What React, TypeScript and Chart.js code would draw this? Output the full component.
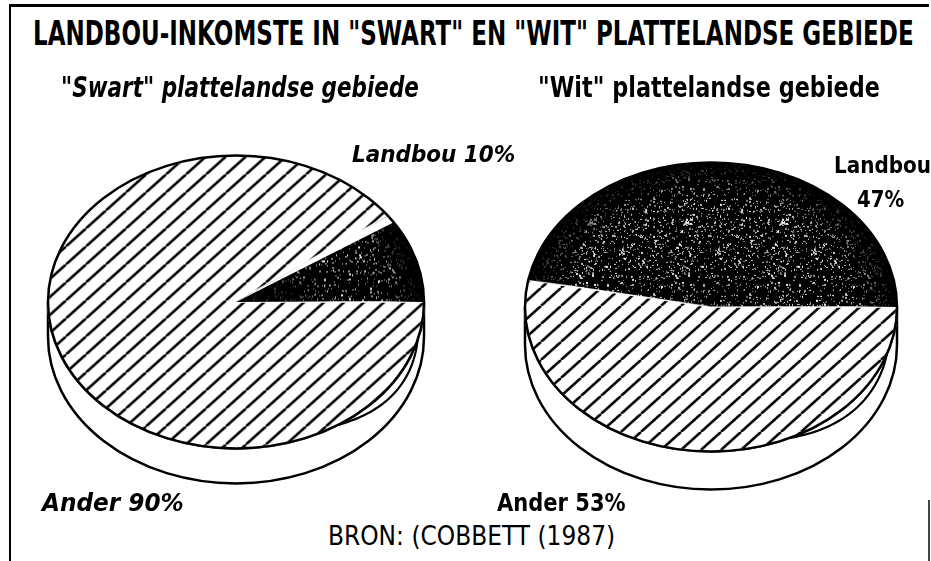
import React, { useEffect, useRef } from "react";
import { Chart, registerables } from "chart.js";

Chart.register(...registerables);

// ---------- data ----------
const SLICE_LABELS = ["Landbou", "Ander"];
const SWART_VALUES = [10, 90];
const WIT_VALUES = [47, 53];

const TITLE = 'LANDBOU-INKOMSTE IN "SWART" EN "WIT" PLATTELANDSE GEBIEDE';
const SUB_SWART = '"Swart" plattelandse gebiede';
const SUB_WIT = '"Wit" plattelandse gebiede';
const SOURCE = "BRON: (COBBETT (1987)";

const FAMILY = '"DejaVu Sans", sans-serif';

// ---------- textures ----------
function makeHatch(ctx: CanvasRenderingContext2D, k: number) {
  const w = 20, h = 18;
  const c = document.createElement("canvas");
  c.width = w;
  c.height = h;
  const g = c.getContext("2d")!;
  g.fillStyle = "#fff";
  g.fillRect(0, 0, w, h);
  g.strokeStyle = "#000";
  g.lineWidth = 2.6;
  for (const ox of [-w, 0, w]) {
    g.beginPath();
    g.moveTo(ox, h);
    g.lineTo(ox + w, 0);
    g.stroke();
  }
  const p = ctx.createPattern(c, "repeat")!;
  p.setTransform(new DOMMatrix().scale(1, 1 / k));
  return p;
}

function makeSpeckle(ctx: CanvasRenderingContext2D, k: number, dots: number) {
  const s = 96;
  const c = document.createElement("canvas");
  c.width = s;
  c.height = s;
  const g = c.getContext("2d")!;
  g.fillStyle = "#000";
  g.fillRect(0, 0, s, s);
  let seed = 12345;
  const rnd = () => {
    seed = (seed * 1103515245 + 12345) & 0x7fffffff;
    return seed / 0x7fffffff;
  };
  for (let i = 0; i < dots; i++) {
    const x = Math.floor(rnd() * s);
    const y = Math.floor(rnd() * s);
    const a = 0.45 + rnd() * 0.55;
    g.fillStyle = `rgba(255,255,255,${a.toFixed(2)})`;
    g.fillRect(x, y, rnd() < 0.4 ? 2 : 1, rnd() < 0.3 ? 2 : 1);
  }
  const p = ctx.createPattern(c, "repeat")!;
  p.setTransform(new DOMMatrix().scale(1, 1 / k));
  return p;
}

// ---------- 3D tilt plugin ----------
const tiltPlugin = {
  id: "tilt3d",
  beforeDatasetsDraw(chart: any, _args: any, opts: any) {
    const arc = chart.getDatasetMeta(0).data[0];
    if (!arc) return;
    const ctx = chart.ctx as CanvasRenderingContext2D;
    const cx = arc.x, cy = arc.y, r = arc.outerRadius;
    const k = opts.k, d = opts.depth, ry = r * k;
    ctx.save();
    ctx.beginPath();
    ctx.moveTo(cx + r, cy);
    ctx.lineTo(cx + r, cy + d);
    ctx.ellipse(cx, cy + d, r, ry, 0, 0, Math.PI, false);
    ctx.lineTo(cx - r, cy);
    ctx.ellipse(cx, cy, r, ry, 0, Math.PI, 0, true);
    ctx.closePath();
    ctx.fillStyle = "#fff";
    ctx.fill();
    ctx.lineWidth = 2.5;
    ctx.strokeStyle = "#000";
    ctx.lineJoin = "round";
    ctx.stroke();
    ctx.restore();
    ctx.save();
    ctx.translate(cx, cy);
    ctx.scale(1, k);
    ctx.translate(-cx, -cy);
  },
  afterDatasetsDraw(chart: any, _args: any, opts: any) {
    const arc = chart.getDatasetMeta(0).data[0];
    if (!arc) return;
    const ctx = chart.ctx as CanvasRenderingContext2D;
    const cx = arc.x, cy = arc.y, r = arc.outerRadius;
    // darken the stippled slice toward its rim (still in tilted space)
    ctx.save();
    ctx.beginPath();
    ctx.moveTo(cx, cy);
    ctx.arc(cx, cy, r, arc.startAngle, arc.endAngle);
    ctx.closePath();
    ctx.clip();
    const grad = ctx.createRadialGradient(cx, cy, 0, cx, cy, r);
    for (const [pos, a] of opts.shade) grad.addColorStop(pos, `rgba(0,0,0,${a})`);
    ctx.fillStyle = grad;
    ctx.fillRect(cx - r, cy - r, 2 * r, 2 * r);
    ctx.restore();
    // white gap along the leading edge of the stippled slice
    if (opts.gap > 0) {
      ctx.save();
      ctx.beginPath();
      ctx.moveTo(cx, cy);
      ctx.arc(cx, cy, r - 1, arc.startAngle, arc.startAngle + (opts.gap * Math.PI) / 180);
      ctx.closePath();
      ctx.fillStyle = "#fff";
      ctx.fill();
      ctx.restore();
    }

    ctx.restore(); // end tilt
    const ry = r * opts.k;
    ctx.save();
    ctx.lineWidth = 2.5;
    ctx.strokeStyle = "#000";
    ctx.beginPath();
    ctx.ellipse(cx, cy, r, ry, 0, 0, Math.PI * 2);
    ctx.stroke();
    // secondary (double-drawn) rim line at the lower right
    const [a0, a1] = opts.lens.map((v: number) => (v * Math.PI) / 180);
    ctx.beginPath();
    const n = 40;
    for (let i = 0; i <= n; i++) {
      const t = a0 + ((a1 - a0) * i) / n;
      const px = cx + r * Math.cos(t);
      const py = cy + ry * Math.sin(t);
      const nx = ry * Math.cos(t), ny = r * Math.sin(t);
      const nl = Math.hypot(nx, ny);
      const b = opts.bulge * Math.sin((Math.PI * i) / n);
      const qx = px + (nx / nl) * b, qy = py + (ny / nl) * b;
      if (i === 0) ctx.moveTo(qx, qy);
      else ctx.lineTo(qx, qy);
    }
    ctx.lineWidth = 2.2;
    ctx.stroke();
    ctx.restore();
  },
};

type PieProps = {
  values: number[];
  cx: number;
  cy: number;
  radius: number;
  k: number;
  depth: number;
  dots: number;
  shade: number[][];
  lens: number[];
  gap: number;
};

const CANVAS = 420;

function TiltedPie({ values, cx, cy, radius, k, depth, dots, shade, lens, gap }: PieProps) {
  const ref = useRef<HTMLCanvasElement | null>(null);
  useEffect(() => {
    const canvas = ref.current!;
    const ctx = canvas.getContext("2d")!;
    const hatch = makeHatch(ctx, k);
    const speckle = makeSpeckle(ctx, k, dots);
    const chart = new Chart(canvas, {
      type: "pie",
      data: {
        labels: SLICE_LABELS,
        datasets: [
          {
            data: values,
            backgroundColor: [speckle, hatch] as any,
            borderWidth: [0, 2],
            borderColor: "#fff",
            radius: radius,
          } as any,
        ],
      },
      options: {
        responsive: false,
        animation: false,
        events: [],
        rotation: 90 - (values[0] / 100) * 360,
        radius: radius,
        layout: { padding: 0 },
        plugins: {
          legend: { display: false },
          tooltip: { enabled: false },
          title: { display: false },
          tilt3d: { k, depth, shade, lens, bulge: 8, gap },
        } as any,
      } as any,
      plugins: [tiltPlugin as any],
    });
    return () => chart.destroy();
  }, []);
  return (
    <canvas
      ref={ref}
      width={CANVAS}
      height={CANVAS}
      style={{
        position: "absolute",
        left: cx - CANVAS / 2,
        top: cy - CANVAS / 2,
        width: CANVAS,
        height: CANVAS,
      }}
    />
  );
}

// ---------- fitted text ----------
const measureCanvas = document.createElement("canvas");
const mctx = measureCanvas.getContext("2d")!;

type LabelProps = {
  text: string;
  x: number;
  w: number;
  top: number;
  base: number;
  weight?: string;
  italic?: boolean;
};

function Label({ text, x, w, top, base, weight = "bold", italic = false }: LabelProps) {
  const style = italic ? "italic" : "normal";
  mctx.font = `${style} ${weight} 100px ${FAMILY}`;
  const capRatio = mctx.measureText("H").actualBoundingBoxAscent / 100;
  const size = (base - top) / capRatio;
  mctx.font = `${style} ${weight} ${size}px ${FAMILY}`;
  const m = mctx.measureText(text);
  const inkW = m.actualBoundingBoxLeft + m.actualBoundingBoxRight;
  const sx = w / inkW;
  const asc = m.fontBoundingBoxAscent;
  const desc = m.fontBoundingBoxDescent;
  const baseOff = size / 2 + (asc - desc) / 2;
  return (
    <div
      style={{
        position: "absolute",
        left: x + m.actualBoundingBoxLeft * sx,
        top: base - baseOff,
        fontFamily: FAMILY,
        fontSize: size,
        lineHeight: `${size}px`,
        fontWeight: weight as any,
        fontStyle: style,
        whiteSpace: "nowrap",
        color: "#000",
        transform: `scaleX(${sx})`,
        transformOrigin: "0 0",
        zIndex: 2,
      }}
    >
      {text}
    </div>
  );
}

export default function App() {
  return (
    <div
      style={{
        position: "absolute",
        left: 0,
        top: 0,
        width: 931,
        height: 561,
        overflow: "hidden",
        background: "#fff",
      }}
    >
      {/* frame */}
      <div style={{ position: "absolute", left: 9, top: 4, width: 920, height: 3, background: "#000" }} />
      <div style={{ position: "absolute", left: 9, top: 4, width: 2, height: 557, background: "#000" }} />
      <div style={{ position: "absolute", left: 928, top: 500, width: 1.5, height: 61, background: "#444" }} />

      <TiltedPie
        values={SWART_VALUES}
        cx={236}
        cy={302}
        radius={188}
        k={0.779}
        depth={35}
        dots={560}
        shade={[[0, 0.95], [0.3, 0.6], [0.55, 0.05], [0.8, 0.05], [0.93, 0.75], [1, 1]]}
        lens={[15, 57]}
        gap={3}
      />
      <TiltedPie
        values={WIT_VALUES}
        cx={711}
        cy={307}
        radius={186}
        k={0.777}
        depth={38}
        dots={720}
        shade={[[0, 0.35], [0.3, 0.1], [0.75, 0.05], [0.9, 0.6], [1, 1]]}
        lens={[19, 65]}
        gap={0}
      />

      <Label text={TITLE} x={35} w={877} top={20} base={45} />
      <Label text={SUB_SWART} x={62} w={356} top={76} base={97} italic />
      <Label text={SUB_WIT} x={540} w={340} top={76} base={97} />
      <Label text={`${SLICE_LABELS[0]} ${SWART_VALUES[0]}%`} x={352} w={163} top={145} base={162} italic />
      <Label text={SLICE_LABELS[0]} x={836} w={94} top={156} base={173} />
      <Label text={`${WIT_VALUES[0]}%`} x={858} w={46} top={190} base={207} />
      <Label text={`${SLICE_LABELS[1]} ${SWART_VALUES[1]}%`} x={40} w={143} top={494} base={512} italic />
      <Label text={`${SLICE_LABELS[1]} ${WIT_VALUES[1]}%`} x={497} w={128} top={494} base={512} />
      <Label text={SOURCE} x={330} w={284} top={525} base={545} weight="normal" />
    </div>
  );
}
